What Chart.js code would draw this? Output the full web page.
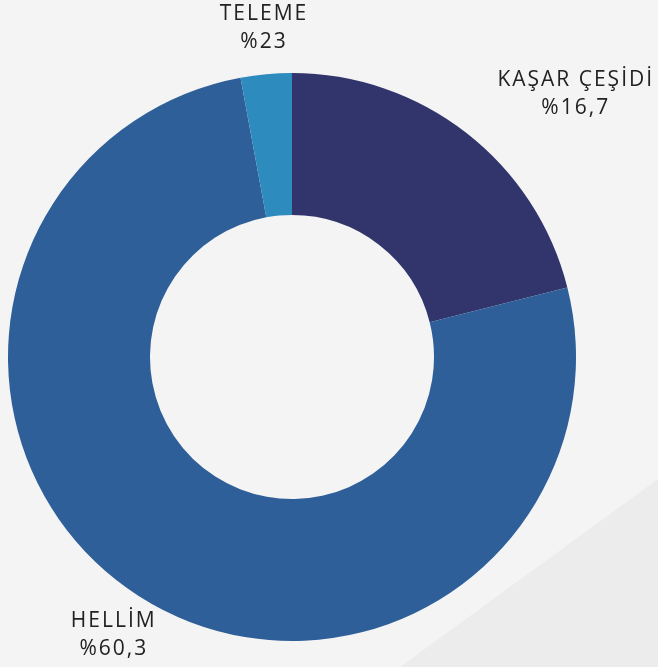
<!DOCTYPE html>
<html>
<head>
<meta charset="utf-8">
<script src="https://cdn.jsdelivr.net/npm/chart.js@4/dist/chart.umd.min.js"></script>
<style>
	html, body { margin: 0; padding: 0; background: #f4f4f4; }
	#wrap { width: 658px; height: 667px; }
</style>
</head>
<body>
<div id="wrap"><canvas id="chart"></canvas></div>
<script>
const labels = ['KAŞAR ÇEŞİDİ', 'HELLİM', 'TELEME'];
const shares = [16.7, 60.3, 2.3];
const shareTexts = ['%16,7', '%60,3', '%23'];
const colors = ['#31356b', '#2e5f98', '#2e8bbe'];

// grey corner shape behind the chart
const cornerBg = {
	id: 'cornerBg',
	beforeDraw(chart) {
		const c = chart.ctx;
		c.save();
		c.fillStyle = '#ececec';
		c.beginPath();
		c.moveTo(400, chart.height);
		c.lineTo(chart.width, 479);
		c.lineTo(chart.width, chart.height);
		c.closePath();
		c.fill();
		c.restore();
	}
};

// label nudges, per slice
const nudge = [[81, -3], [0, 0], [2, 0]];

const outLabels = {
	id: 'outLabels',
	afterDraw(chart) {
		const c = chart.ctx;
		const arcs = chart.getDatasetMeta(0).data;
		c.save();
		c.font = '21px "Open Sans", sans-serif';
		c.letterSpacing = '2px';
		c.fillStyle = '#222';
		c.textAlign = 'center';
		c.textBaseline = 'middle';
		arcs.forEach((arc, i) => {
			const p = arc.getProps(['x', 'y', 'startAngle', 'endAngle', 'outerRadius'], true);
			const mid = (p.startAngle + p.endAngle) / 2;
			const r = p.outerRadius + 46;
			const x = p.x + Math.cos(mid) * r + nudge[i][0];
			const y = p.y + Math.sin(mid) * r + nudge[i][1];
			c.fillText(labels[i], x, y - 14);
			c.fillText(shareTexts[i], x, y + 14);
		});
		c.restore();
	}
};

new Chart(document.getElementById('chart'), {
	type: 'doughnut',
	data: {
		labels: labels,
		datasets: [{
			data: shares,
			backgroundColor: colors,
			borderWidth: 0
		}]
	},
	options: {
		responsive: true,
		maintainAspectRatio: false,
		animation: false,
		cutout: '50%',
		layout: {
			padding: { left: 8, right: 82, top: 73, bottom: 26 }
		},
		plugins: {
			legend: { display: false },
			tooltip: { enabled: false }
		}
	},
	plugins: [cornerBg, outLabels]
});
</script>
</body>
</html>
